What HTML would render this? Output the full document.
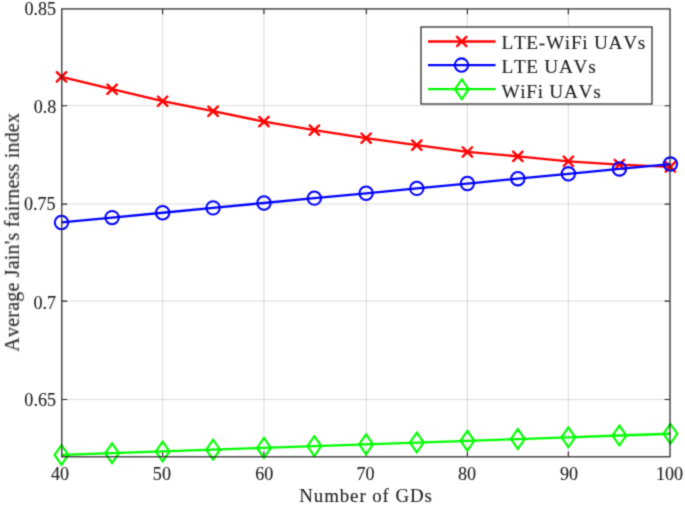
<!DOCTYPE html>
<html><head><meta charset="utf-8"><style>
html,body{margin:0;padding:0;background:#fff;}
body{width:685px;height:507px;overflow:hidden;}
svg{display:block;}
text{font-family:"Liberation Serif",serif;fill:#202020;font-kerning:none;stroke:#202020;stroke-width:0.1px;}
</style></head><body>
<svg width="685" height="507" viewBox="0 0 685 507">
<defs><filter id="bl" x="0" y="0" width="685" height="507" filterUnits="userSpaceOnUse" color-interpolation-filters="sRGB"><feConvolveMatrix order="3" kernelMatrix="0.02768 0.11101 0.02768 0.11101 0.44521 0.11101 0.02768 0.11101 0.02768" divisor="1" edgeMode="duplicate" preserveAlpha="true"/></filter></defs>
<g filter="url(#bl)">
<rect x="0" y="0" width="685" height="507" fill="#fff"/>

<path d="M162.66 8.90V456.80M263.94 8.90V456.80M366.34 8.90V456.80M467.34 8.90V456.80M568.34 8.90V456.80M61.80 399.47H670.00M61.80 301.10H670.00M61.80 204.06H670.00M61.80 105.70H670.00" stroke="#262626" stroke-opacity="0.16" stroke-width="1.0" fill="none"/>
<path d="M162.66 456.80v-5.4M162.66 8.90v5.4M263.94 456.80v-5.4M263.94 8.90v5.4M366.34 456.80v-5.4M366.34 8.90v5.4M467.34 456.80v-5.4M467.34 8.90v5.4M568.34 456.80v-5.4M568.34 8.90v5.4M61.80 399.47h5.4M670.00 399.47h-5.4M61.80 301.10h5.4M670.00 301.10h-5.4M61.80 204.06h5.4M670.00 204.06h-5.4M61.80 105.70h5.4M670.00 105.70h-5.4" stroke="#262626" stroke-width="1.15" fill="none"/>
<polyline points="61.50,76.88 112.10,89.23 162.65,101.21 213.10,111.23 263.96,121.63 314.35,130.15 366.10,138.21 416.80,145.15 467.37,151.94 517.85,156.33 568.37,161.31 619.40,164.57 670.40,166.85" stroke="#ff0000" stroke-width="2.3" fill="none" stroke-linejoin="round"/>
<path d="M56.80 72.18L66.20 81.58M56.80 81.58L66.20 72.18M107.40 84.53L116.80 93.93M107.40 93.93L116.80 84.53M157.95 96.51L167.35 105.91M157.95 105.91L167.35 96.51M208.40 106.53L217.80 115.93M208.40 115.93L217.80 106.53M259.26 116.93L268.66 126.33M259.26 126.33L268.66 116.93M309.65 125.45L319.05 134.85M309.65 134.85L319.05 125.45M361.40 133.51L370.80 142.91M361.40 142.91L370.80 133.51M412.10 140.45L421.50 149.85M412.10 149.85L421.50 140.45M462.67 147.24L472.07 156.64M462.67 156.64L472.07 147.24M513.15 151.63L522.55 161.03M513.15 161.03L522.55 151.63M563.67 156.61L573.07 166.01M563.67 166.01L573.07 156.61M614.70 159.87L624.10 169.27M614.70 169.27L624.10 159.87M665.70 162.15L675.10 171.55M665.70 171.55L675.10 162.15" stroke="#ff0000" stroke-width="2.4" stroke-linecap="round" fill="none"/>
<polyline points="61.50,222.48 112.10,217.61 162.65,212.74 213.10,207.87 263.96,203.01 314.35,198.14 366.10,193.27 416.80,188.40 467.37,183.53 517.85,178.67 568.37,173.80 619.40,168.93 670.40,164.06" stroke="#0000ff" stroke-width="2.3" fill="none" stroke-linejoin="round"/>
<circle cx="61.50" cy="222.48" r="6.7" stroke="#0000ff" stroke-width="2.05" fill="none"/><circle cx="112.10" cy="217.61" r="6.7" stroke="#0000ff" stroke-width="2.05" fill="none"/><circle cx="162.65" cy="212.74" r="6.7" stroke="#0000ff" stroke-width="2.05" fill="none"/><circle cx="213.10" cy="207.87" r="6.7" stroke="#0000ff" stroke-width="2.05" fill="none"/><circle cx="263.96" cy="203.01" r="6.7" stroke="#0000ff" stroke-width="2.05" fill="none"/><circle cx="314.35" cy="198.14" r="6.7" stroke="#0000ff" stroke-width="2.05" fill="none"/><circle cx="366.10" cy="193.27" r="6.7" stroke="#0000ff" stroke-width="2.05" fill="none"/><circle cx="416.80" cy="188.40" r="6.7" stroke="#0000ff" stroke-width="2.05" fill="none"/><circle cx="467.37" cy="183.53" r="6.7" stroke="#0000ff" stroke-width="2.05" fill="none"/><circle cx="517.85" cy="178.67" r="6.7" stroke="#0000ff" stroke-width="2.05" fill="none"/><circle cx="568.37" cy="173.80" r="6.7" stroke="#0000ff" stroke-width="2.05" fill="none"/><circle cx="619.40" cy="168.93" r="6.7" stroke="#0000ff" stroke-width="2.05" fill="none"/><circle cx="670.40" cy="164.06" r="6.7" stroke="#0000ff" stroke-width="2.05" fill="none"/>
<polyline points="61.50,454.95 112.10,453.18 162.65,451.42 213.10,449.65 263.96,447.88 314.35,446.12 366.10,444.35 416.80,442.58 467.37,440.82 517.85,439.05 568.37,437.28 619.40,435.52 670.40,433.75" stroke="#00ff00" stroke-width="2.3" fill="none" stroke-linejoin="round"/>
<path d="M61.50 445.05L68.40 454.95L61.50 464.85L54.60 454.95ZM112.10 443.28L119.00 453.18L112.10 463.08L105.20 453.18ZM162.65 441.52L169.55 451.42L162.65 461.32L155.75 451.42ZM213.10 439.75L220.00 449.65L213.10 459.55L206.20 449.65ZM263.96 437.98L270.86 447.88L263.96 457.78L257.06 447.88ZM314.35 436.22L321.25 446.12L314.35 456.02L307.45 446.12ZM366.10 434.45L373.00 444.35L366.10 454.25L359.20 444.35ZM416.80 432.68L423.70 442.58L416.80 452.48L409.90 442.58ZM467.37 430.92L474.27 440.82L467.37 450.72L460.47 440.82ZM517.85 429.15L524.75 439.05L517.85 448.95L510.95 439.05ZM568.37 427.38L575.27 437.28L568.37 447.18L561.47 437.28ZM619.40 425.62L626.30 435.52L619.40 445.42L612.50 435.52ZM670.40 423.85L677.30 433.75L670.40 443.65L663.50 433.75Z" stroke="#00ff00" stroke-width="2.15" fill="none" stroke-linejoin="miter"/>
<rect x="61.80" y="8.90" width="608.20" height="447.90" stroke="#262626" stroke-width="1.25" fill="none"/>
<text transform="translate(60.10,479.6) scale(1,1.0)" font-size="18.1" letter-spacing="0.0" text-anchor="middle">40</text>
<text transform="translate(161.90,479.6) scale(1,1.0)" font-size="18.1" letter-spacing="0.0" text-anchor="middle">50</text>
<text transform="translate(264.30,479.6) scale(1,1.0)" font-size="18.1" letter-spacing="0.0" text-anchor="middle">60</text>
<text transform="translate(365.60,479.6) scale(1,1.0)" font-size="18.1" letter-spacing="0.0" text-anchor="middle">70</text>
<text transform="translate(467.00,479.6) scale(1,1.0)" font-size="18.1" letter-spacing="0.0" text-anchor="middle">80</text>
<text transform="translate(569.00,479.6) scale(1,1.0)" font-size="18.1" letter-spacing="0.0" text-anchor="middle">90</text>
<text transform="translate(669.50,479.6) scale(1,1.0)" font-size="18.1" letter-spacing="0.0" text-anchor="middle">100</text>
<text transform="translate(56.00,405.60) scale(1,1.0)" font-size="18.1" letter-spacing="0.0" text-anchor="end">0.65</text>
<text transform="translate(56.00,308.55) scale(1,1.0)" font-size="18.1" letter-spacing="0.0" text-anchor="end">0.7</text>
<text transform="translate(55.60,210.20) scale(1,1.0)" font-size="18.1" letter-spacing="0.0" text-anchor="end">0.75</text>
<text transform="translate(56.40,113.00) scale(1,1.0)" font-size="18.1" letter-spacing="0.0" text-anchor="end">0.8</text>
<text transform="translate(56.10,15.10) scale(1,1.0)" font-size="18.1" letter-spacing="0.0" text-anchor="end">0.85</text>
<text transform="translate(366,502) scale(1,1.0)" font-size="18.9" letter-spacing="0.9" text-anchor="middle">Number of GDs</text>
<text transform="translate(18.9,232.3) rotate(-90) scale(1,1.0)" font-size="20.0" letter-spacing="0.2" text-anchor="middle">Average Jain's fairness index</text>
<rect x="421" y="27" width="231" height="77" fill="#fff" stroke="#262626" stroke-width="1.25"/>
<path d="M428 41.50H495.5" stroke="#ff0000" stroke-width="2.3" fill="none"/>
<path d="M457.00 36.80L466.40 46.20M457.00 46.20L466.40 36.80" stroke="#ff0000" stroke-width="2.4" stroke-linecap="round" fill="none"/>
<text transform="translate(501.4,48.70) scale(1,1.0)" font-size="19.3" letter-spacing="0.7">LTE-WiFi UAVs</text>
<path d="M428 65.10H495.5" stroke="#0000ff" stroke-width="2.3" fill="none"/>
<circle cx="461.5" cy="65.10" r="6.7" stroke="#0000ff" stroke-width="2.05" fill="none"/>
<text transform="translate(501.4,73.20) scale(1,1.0)" font-size="19.3" letter-spacing="0.7">LTE UAVs</text>
<path d="M428 89.20H495.5" stroke="#00ff00" stroke-width="2.3" fill="none"/>
<path d="M461.80 79.30L468.70 89.20L461.80 99.10L454.90 89.20Z" stroke="#00ff00" stroke-width="2.15" fill="none"/>
<text transform="translate(501.4,97.60) scale(1,1.0)" font-size="19.3" letter-spacing="0.7">WiFi UAVs</text>
</g></svg></body></html>
